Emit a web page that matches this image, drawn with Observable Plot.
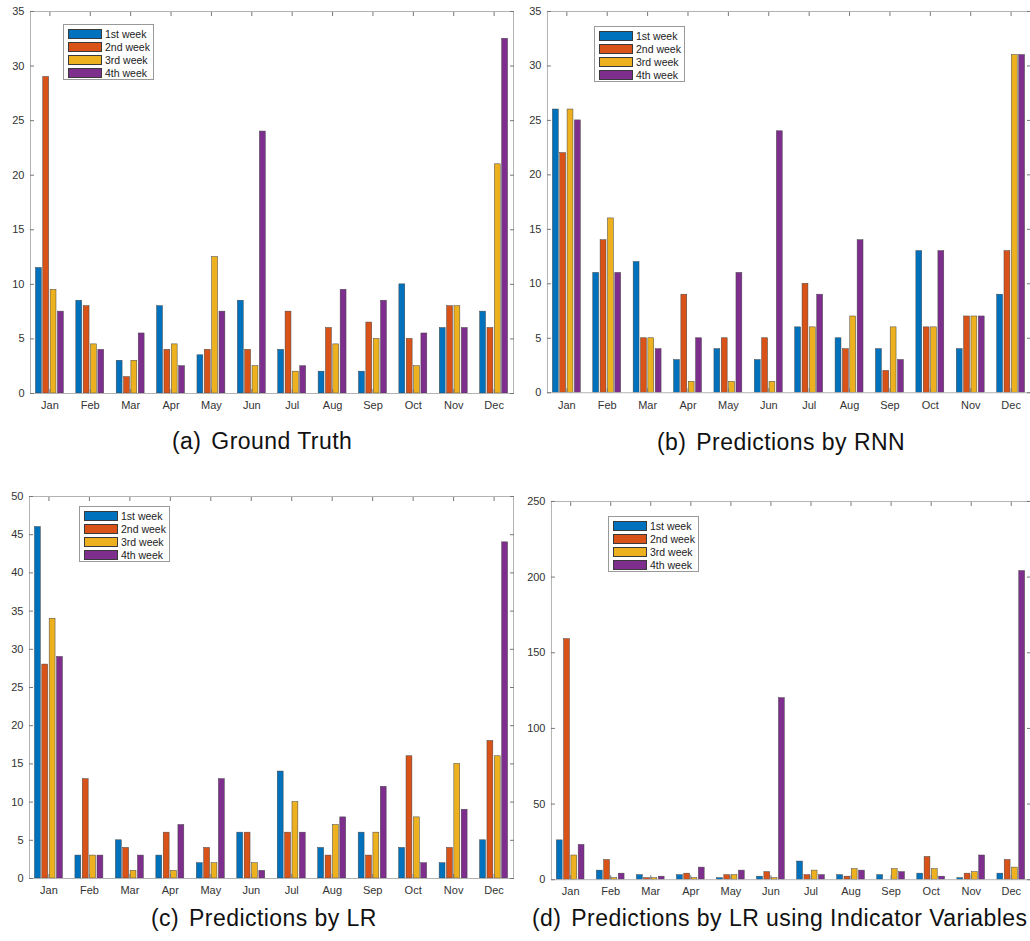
<!DOCTYPE html>
<html>
<head>
<meta charset="utf-8">
<script src="https://cdn.jsdelivr.net/npm/d3@7"></script>
<script src="https://cdn.jsdelivr.net/npm/@observablehq/plot@0.6"></script>
<style>
  body { margin: 0; background: #fff; overflow: hidden; font-family: "Liberation Sans", Arial, sans-serif; }
  #page { position: relative; width: 1030px; height: 941px; overflow: hidden; background: #fff; }
  .panel { position: absolute; }
  .panel svg { overflow: visible; }
  .legend { position: absolute; background: #fff; border: 1px solid #999; box-sizing: border-box; padding: 2px 4px 0 4px; font-size: 10.5px; color: #222; }
  .legend .row { display: flex; align-items: center; height: 13px; white-space: nowrap; }
  .legend .sw { width: 34px; height: 10px; box-sizing: border-box; border: 1px solid #3a3a3a; margin-right: 3px; flex: none; }
  .caption { position: absolute; font-size: 23px; line-height: 23px; letter-spacing: 0.45px; color: #111; white-space: nowrap; }
</style>
</head>
<body>
<div id="page"></div>
<script>
// ---------- data ----------
const months = ["Jan", "Feb", "Mar", "Apr", "May", "Jun", "Jul", "Aug", "Sep", "Oct", "Nov", "Dec"];
const weeks = ["1st week", "2nd week", "3rd week", "4th week"];
const weekColors = ["#0072BD", "#D95319", "#EDB120", "#7E2F8E"];

// one row per month: [1st, 2nd, 3rd, 4th week]
const groundTruth = [
  [11.5, 29, 9.5, 7.5], [8.5, 8, 4.5, 4], [3, 1.5, 3, 5.5], [8, 4, 4.5, 2.5],
  [3.5, 4, 12.5, 7.5], [8.5, 4, 2.5, 24], [4, 7.5, 2, 2.5], [2, 6, 4.5, 9.5],
  [2, 6.5, 5, 8.5], [10, 5, 2.5, 5.5], [6, 8, 8, 6], [7.5, 6, 21, 32.5]
];
const rnn = [
  [26, 22, 26, 25], [11, 14, 16, 11], [12, 5, 5, 4], [3, 9, 1, 5],
  [4, 5, 1, 11], [3, 5, 1, 24], [6, 10, 6, 9], [5, 4, 7, 14],
  [4, 2, 6, 3], [13, 6, 6, 13], [4, 7, 7, 7], [9, 13, 31, 31]
];
const lr = [
  [46, 28, 34, 29], [3, 13, 3, 3], [5, 4, 1, 3], [3, 6, 1, 7],
  [2, 4, 2, 13], [6, 6, 2, 1], [14, 6, 10, 6], [4, 3, 7, 8],
  [6, 3, 6, 12], [4, 16, 8, 2], [2, 4, 15, 9], [5, 18, 16, 44]
];
const lrIndicator = [
  [26, 159, 16, 23], [6, 13, 1, 4], [3, 1, 1, 2], [3, 4, 1, 8],
  [1, 3, 3, 6], [2, 5, 1, 120], [12, 3, 6, 3], [3, 2, 7, 6],
  [3, 0, 7, 5], [4, 15, 7, 2], [1, 4, 5, 16], [4, 13, 8, 204]
];

const ticks35 = [0, 5, 10, 15, 20, 25, 30, 35];
const ticks50 = [0, 5, 10, 15, 20, 25, 30, 35, 40, 45, 50];
const ticks250 = [0, 50, 100, 150, 200, 250];

const captionsText = [
  ["(a)", "Ground Truth"],
  ["(b)", "Predictions by RNN"],
  ["(c)", "Predictions by LR"],
  ["(d)", "Predictions by LR using Indicator Variables"]
];

// ---------- layout ----------
const panels = [
  { data: groundTruth, ticks: ticks35, left: 0, top: 0, width: 520, height: 420,
    m: { l: 30, t: 11, r: 7, b: 27 }, legend: [63, 24], caption: [172, 431] },
  { data: rnn, ticks: ticks35, left: 515, top: 0, width: 516, height: 420,
    m: { l: 32, t: 11, r: 0, b: 27 }, legend: [594, 26], caption: [657, 432] },
  { data: lr, ticks: ticks50, left: 0, top: 480, width: 520, height: 420,
    m: { l: 29, t: 16, r: 7, b: 22 }, legend: [79, 506], caption: [151, 908] },
  { data: lrIndicator, ticks: ticks250, left: 515, top: 480, width: 516, height: 420,
    m: { l: 36, t: 21, r: 0, b: 20 }, legend: [608, 516], caption: [532, 908] }
];

// MATLAB-style grouped bar geometry (in month units)
const nb = weeks.length;
const groupWidth = Math.min(0.8, nb / (nb + 1.5));
const barStep = groupWidth / nb;
const barWidth = 0.8 * barStep;
const monthPos = months.map((_, i) => i + 1);

const page = document.getElementById("page");

panels.forEach((p, k) => {
  const rows = [];
  p.data.forEach((vals, i) => vals.forEach((v, w) => rows.push({ m: i + 1, w, week: weeks[w], v })));
  const center = d => d.m + (d.w - (nb - 1) / 2) * barStep;

  const chart = Plot.plot({
    width: p.width, height: p.height,
    marginLeft: p.m.l, marginTop: p.m.t, marginRight: p.m.r, marginBottom: p.m.b,
    x: { domain: [0.52, 12.48], label: null },
    y: { domain: [0, p.ticks[p.ticks.length - 1]], label: null },
    color: { domain: weeks, range: weekColors },
    style: { fontFamily: '"Liberation Sans", Arial, sans-serif', fontSize: "11px", color: "#333", background: "transparent" },
    marks: [
      Plot.rectY(rows, {
        x1: d => center(d) - barWidth / 2,
        x2: d => center(d) + barWidth / 2,
        y1: 0, y2: "v",
        fill: "week", stroke: "#444", strokeWidth: 0.5
      }),
      Plot.frame({ stroke: "#b3b3b3" }),
      Plot.axisX(monthPos, { anchor: "bottom", tickSize: 0, tickPadding: 8, tickFormat: i => months[i - 1], fill: "#333", label: null }),
      Plot.axisX(monthPos, { anchor: "bottom", tickSize: -4, tickFormat: () => "", stroke: "#777", label: null }),
      Plot.axisX(monthPos, { anchor: "top", tickSize: -4, tickFormat: () => "", stroke: "#777", label: null }),
      Plot.axisY(p.ticks, { anchor: "left", tickSize: 0, tickPadding: 6, fill: "#333", label: null }),
      Plot.axisY(p.ticks, { anchor: "left", tickSize: -4, tickFormat: () => "", stroke: "#777", label: null }),
      Plot.axisY(p.ticks, { anchor: "right", tickSize: -4, tickFormat: () => "", stroke: "#777", label: null })
    ]
  });
  const div = document.createElement("div");
  div.className = "panel";
  div.style.left = p.left + "px";
  div.style.top = p.top + "px";
  div.appendChild(chart);
  page.appendChild(div);

  // legend
  const lg = document.createElement("div");
  lg.className = "legend";
  lg.style.left = p.legend[0] + "px";
  lg.style.top = p.legend[1] + "px";
  lg.style.width = "91px";
  lg.style.height = "56px";
  weeks.forEach((w, i) => {
    const row = document.createElement("div");
    row.className = "row";
    const sw = document.createElement("div");
    sw.className = "sw";
    sw.style.background = weekColors[i];
    const t = document.createElement("span");
    t.textContent = w;
    row.appendChild(sw);
    row.appendChild(t);
    lg.appendChild(row);
  });
  page.appendChild(lg);

  // caption
  const cap = document.createElement("div");
  cap.className = "caption";
  cap.style.left = p.caption[0] + "px";
  cap.style.top = (p.caption[1] - 1) + "px";
  const lab = document.createElement("span");
  lab.style.marginRight = "3px";
  lab.textContent = captionsText[k][0];
  cap.appendChild(lab);
  cap.appendChild(document.createTextNode(" " + captionsText[k][1]));
  page.appendChild(cap);
});
</script>
</body>
</html>
